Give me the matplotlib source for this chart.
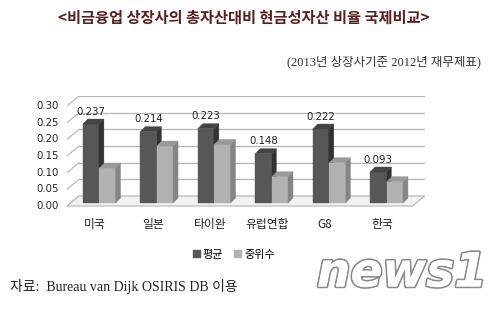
import matplotlib
matplotlib.use("Agg")
import matplotlib.pyplot as plt
import matplotlib.patheffects as pe
from matplotlib.patches import Polygon
import numpy as np

plt.rcParams["font.family"] = ["Noto Sans CJK KR", "DejaVu Sans"]

CATEGORIES = ["미국", "일본", "타이완", "유럽연합", "G8", "한국"]
MEAN = [0.237, 0.214, 0.223, 0.148, 0.222, 0.093]
MEDIAN = [0.105, 0.171, 0.176, 0.079, 0.121, 0.064]
Y_TICKS = [0.00, 0.05, 0.10, 0.15, 0.20, 0.25, 0.30]
SERIES = ["평균", "중위수"]

TITLE = "<비금융업 상장사의 총자산대비 현금성자산 비율 국제비교>"
SUBTITLE = "(2013년 상장사기준 2012년 재무제표)"
SOURCE = "자료:  Bureau van Dijk OSIRIS DB 이용"

W, H = 499, 309
PX_X = 1 / 57.5   # data units per pixel, x
PX_Y = 1 / 333.0  # data units per pixel, y

XMIN, XMAX = -0.56, 5.66
YMIN, YMAX = -0.012, 0.32

fig = plt.figure(figsize=(W / 100, H / 100), dpi=100)
fig.patch.set_facecolor("white")
ax = fig.add_axes([67 / W, (H - 207) / H, 357.5 / W, 110.6 / H])
ax.set_xlim(XMIN, XMAX)
ax.set_ylim(YMIN, YMAX)
ax.set_axis_off()

# 3d-ish frame: floor, back wall gridlines, left wall diagonals
back_dy = 7 * PX_Y
front_dy = -3 * PX_Y
wall_dx = 12 * PX_X
grid_c = "#b4b4b4"

floor = Polygon([(XMIN, front_dy), (XMAX - wall_dx, front_dy),
                 (XMAX, back_dy), (XMIN + wall_dx, back_dy)],
                closed=True, facecolor="#f2f2f2", edgecolor=grid_c, lw=0.8, zorder=1)
ax.add_patch(floor)
for t in Y_TICKS:
    ax.plot([XMIN + wall_dx, XMAX], [t + back_dy] * 2, color=grid_c, lw=0.9, zorder=0)
    ax.plot([XMIN, XMIN + wall_dx], [t + front_dy, t + back_dy], color=grid_c, lw=0.8, zorder=0)
    ax.text(XMIN - 8 * PX_X, t + front_dy, f"{t:.2f}", ha="right", va="center",
            fontsize=7.3, color="#222222", family="DejaVu Sans")

# bars
x = np.arange(len(CATEGORIES))
width = 0.28
off = 0.145
ddx = 5 * PX_X
ddy = 5 * PX_Y

styles = [
    ("#575757", "#333333", "#444444"),
    ("#b2b2b2", "#858585", "#9a9a9a"),
]

containers = []
for i in range(len(CATEGORIES)):
    for k, (vals, xs) in enumerate([(MEAN, x - off), (MEDIAN, x + off)]):
        front, side, top = styles[k]
        h = vals[i]
        x0 = xs[i] - width / 2
        x1 = xs[i] + width / 2
        z = 3 + i * 2 + k
        b = ax.bar(xs[i], h, width, color=front, edgecolor=front, lw=0.3, zorder=z)
        if i == 0:
            containers.append(b)
        ax.add_patch(Polygon([(x1, 0), (x1 + ddx, ddy), (x1 + ddx, h + ddy), (x1, h)],
                             closed=True, facecolor=side, edgecolor=side, lw=0.3, zorder=z))
        ax.add_patch(Polygon([(x0, h), (x0 + ddx, h + ddy), (x1 + ddx, h + ddy), (x1, h)],
                             closed=True, facecolor=top, edgecolor=top, lw=0.3, zorder=z))

for i, m in enumerate(MEAN):
    ax.text(x[i] - off, m + 0.022, f"{m:.3f}", ha="center", va="bottom",
            fontsize=7.3, color="#222222", family="DejaVu Sans", zorder=20)

for i, c in enumerate(CATEGORIES):
    ax.text(x[i] - 0.07, -0.066, c, ha="center", va="center",
            fontsize=8.5, color="#222222", clip_on=False)

fig.legend(containers, SERIES, loc="center", bbox_to_anchor=(234 / W, 1 - 255 / H),
           ncol=2, frameon=False, fontsize=8, handlelength=0.7, handleheight=0.7,
           handletextpad=0.2, columnspacing=1.0)

fig.text(244 / W, 1 - 18 / H, TITLE, ha="center", va="center", fontsize=11,
         fontweight="bold", color="#5b1f1f")
fig.text(481 / W, 1 - 62 / H, SUBTITLE, ha="right", va="center", fontsize=9,
         color="#333333", family=["Liberation Serif", "Noto Sans CJK KR"])
fig.text(10 / W, 1 - 287 / H, SOURCE, ha="left", va="center", fontsize=10,
         color="#222222", family=["Liberation Serif", "Noto Sans CJK KR"])

fig.text(402 / W, 1 - 274 / H, "news1", ha="center", va="center", fontsize=34,
         fontstyle="italic", fontweight="bold", color="white", family="DejaVu Sans",
         path_effects=[pe.withStroke(linewidth=2.5, foreground="#8a8a8a"),
                       pe.SimpleLineShadow(offset=(2, -2), shadow_color="#555555", alpha=0.5),
                       pe.Normal()])

fig.savefig("out.png", dpi=100)
